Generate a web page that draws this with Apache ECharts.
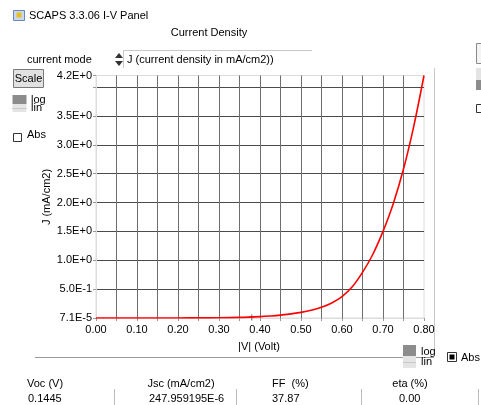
<!DOCTYPE html>
<html>
<head>
<meta charset="utf-8">
<script src="https://cdn.jsdelivr.net/npm/echarts@6/dist/echarts.min.js"></script>
<style>
html,body{margin:0;padding:0;background:#fff;}
#chart{width:481px;height:405px;}
</style>
</head>
<body>
<div id="chart"></div>
<script>
// ---- data ----
const voltage = [0.00, 0.05, 0.10, 0.15, 0.20, 0.25, 0.30, 0.35, 0.40, 0.425, 0.45, 0.475, 0.50, 0.525, 0.55, 0.575, 0.60, 0.625, 0.65, 0.675, 0.70, 0.725, 0.75, 0.775, 0.80];
const currentDensity = [0.00007, 0.0001, 0.0002, 0.0004, 0.001, 0.002, 0.004, 0.010, 0.024, 0.035, 0.050, 0.072, 0.097, 0.133, 0.185, 0.26, 0.37, 0.54, 0.79, 1.10, 1.50, 1.98, 2.58, 3.32, 4.20];
const xTickValues = [0.00, 0.10, 0.20, 0.30, 0.40, 0.50, 0.60, 0.70, 0.80];
const xTickLabels = ['0.00', '0.10', '0.20', '0.30', '0.40', '0.50', '0.60', '0.70', '0.80'];
const yTickValues = [0, 0.5, 1.0, 1.5, 2.0, 2.5, 3.0, 3.5, 4.2];
const yTickLabels = ['7.1E-5', '5.0E-1', '1.0E+0', '1.5E+0', '2.0E+0', '2.5E+0', '3.0E+0', '3.5E+0', '4.2E+0'];
const markerPoint = [[0.38, 0.01]];
const resultNames = ['Voc (V)', 'Jsc (mA/cm2)', 'FF  (%)', 'eta (%)'];
const resultValues = ['0.1445', '247.959195E-6', '37.87', '0.00'];

const FONT = '11px "Liberation Sans", Arial, sans-serif';
function lookup(vals, labels, v) {
  for (let i = 0; i < vals.length; i++) if (Math.abs(vals[i] - v) < 1e-6) return labels[i];
  return '';
}
function txt(text, x, y, align) {
  return {type: 'text', silent: true, style: {text: text, x: x, y: y, font: FONT, fill: '#000', align: align || 'left', verticalAlign: 'middle'}};
}
function rect(x, y, w, h, fill, stroke) {
  return {type: 'rect', silent: true, shape: {x: x, y: y, width: w, height: h}, style: {fill: fill, stroke: stroke || null, lineWidth: 1}};
}
function line(x1, y1, x2, y2, color) {
  return {type: 'line', silent: true, shape: {x1: x1, y1: y1, x2: x2, y2: y2}, style: {stroke: color, lineWidth: 1}};
}

const colX = [27, 181, 272, 410];
const colAlign = ['left', 'center', 'left', 'center'];
const valX = [28, 149, 272, 399];

const graphics = [
  // title bar
  rect(13.5, 10.5, 11, 10, '#c8d8f0', '#6a86b8'),
  rect(16.5, 12.5, 5, 5, '#e8c020', null),
  txt('SCAPS 3.3.06 I-V Panel', 29, 15.5),
  txt('Current Density', 209, 32.5, 'center'),
  txt('current mode', 27, 60),
  // spinner + field
  line(123, 50.5, 312, 50.5, '#c8c8c8'),
  line(123.5, 50, 123.5, 68, '#c8c8c8'),
  {type: 'polygon', silent: true, shape: {points: [[115, 58], [123, 58], [119, 53]]}, style: {fill: '#333'}},
  {type: 'polygon', silent: true, shape: {points: [[115, 61], [123, 61], [119, 66]]}, style: {fill: '#333'}},
  txt('J (current density in mA/cm2))', 127, 60),
  // Scale button
  rect(13.5, 69.5, 30, 18, '#e1e1e1', '#7a7a7a'),
  txt('Scale', 28.5, 79, 'center'),
  // log/lin widget left
  rect(12.5, 95, 14, 9, '#8c8c8c', null),
  rect(12.5, 104, 14, 8, '#e4e4e4', null),
  line(12.5, 108.5, 26.5, 108.5, '#c8c8c8'),
  txt('log', 31, 99.5),
  txt('lin', 31, 107.5),
  // Abs checkbox left
  rect(13.5, 133.5, 8, 8, '#fff', '#333'),
  txt('Abs', 27, 135),
  // y axis title
  {type: 'text', silent: true, x: 47, y: 197, rotation: Math.PI / 2, style: {text: 'J (mA/cm2)', font: FONT, fill: '#000', align: 'center', verticalAlign: 'middle'}},
  // x axis title
  txt('|V| (Volt)', 259, 347, 'center'),
  // dividers
  line(35, 357.5, 434, 357.5, '#9a9a9a'),
  line(434.5, 68, 434.5, 356, '#c8c8c8'),
  // log/lin widget bottom
  rect(403, 345, 13, 11, '#8c8c8c', null),
  rect(403, 356, 13, 12, '#e4e4e4', null),
  line(403, 362.5, 416, 362.5, '#c8c8c8'),
  txt('log', 421, 352),
  txt('lin', 421, 362),
  // Abs checkbox bottom (checked)
  rect(447.5, 352.5, 9, 9, '#fff', '#333'),
  rect(449.5, 354.5, 5, 5, '#000', null),
  txt('Abs', 461, 358),
  // right cut-off widgets
  rect(476.5, 43.5, 8, 20, '#f4f4f4', '#8a8a8a'),
  rect(476, 68, 6, 12, '#e4e4e4', null),
  rect(476, 80, 6, 10, '#8c8c8c', null),
  rect(476.5, 104.5, 8, 8, '#fff', '#333'),
  // bottom result separators
  line(114.5, 389, 114.5, 405, '#bdbdbd'),
  line(236.5, 389, 236.5, 405, '#bdbdbd'),
  line(361.5, 389, 361.5, 405, '#bdbdbd'),
  line(478.5, 389, 478.5, 405, '#bdbdbd')
];
for (let i = 0; i < resultNames.length; i++) {
  graphics.push(txt(resultNames[i], colX[i], 383.5, colAlign[i]));
  graphics.push(txt(resultValues[i], valX[i], 398.5, 'left'));
}

const chart = echarts.init(document.getElementById('chart'), null, {renderer: 'canvas'});
chart.setOption({
  animation: false,
  backgroundColor: '#fff',
  grid: {left: 96, right: 57, top: 75.5, bottom: 87, show: true, borderColor: '#dcdcdc', borderWidth: 1, backgroundColor: 'transparent'},
  xAxis: {
    type: 'value', min: 0, max: 0.8, interval: 0.05,
    axisLine: {show: true, lineStyle: {color: '#dcdcdc'}},
    axisTick: {show: true, length: 3, lineStyle: {color: '#999'}},
    axisLabel: {color: '#000', fontSize: 11, fontFamily: '"Liberation Sans", Arial, sans-serif', margin: 6, showMinLabel: true, showMaxLabel: true,
      formatter: v => lookup(xTickValues, xTickLabels, v)},
    splitLine: {show: true, showMinLine: false, showMaxLine: false, lineStyle: {color: '#6e6e6e', width: 1}}
  },
  yAxis: {
    type: 'value', min: 0, max: 4.2, interval: 0.5,
    axisLine: {show: true, lineStyle: {color: '#dcdcdc'}},
    axisTick: {show: true, length: 3, lineStyle: {color: '#999'}},
    axisLabel: {color: '#000', fontSize: 11, fontFamily: '"Liberation Sans", Arial, sans-serif', margin: 4, showMinLabel: true, showMaxLabel: true,
      formatter: v => lookup(yTickValues, yTickLabels, v)},
    splitLine: {show: true, showMinLine: false, showMaxLine: false, lineStyle: {color: '#4a4a4a', width: 1}}
  },
  series: [
    {
      type: 'line',
      data: voltage.map((v, i) => [v, currentDensity[i]]),
      showSymbol: false,
      smooth: 0.3,
      lineStyle: {color: '#ff0000', width: 1.6},
      clip: true,
      z: 5
    },
    {
      type: 'scatter',
      data: markerPoint,
      symbol: 'path://M0,0 L0,10 M-3,4 L3,4',
      symbolSize: [6, 6],
      itemStyle: {color: 'transparent', borderColor: '#444', borderWidth: 1},
      z: 4
    }
  ],
  graphic: graphics
});
</script>
</body>
</html>
